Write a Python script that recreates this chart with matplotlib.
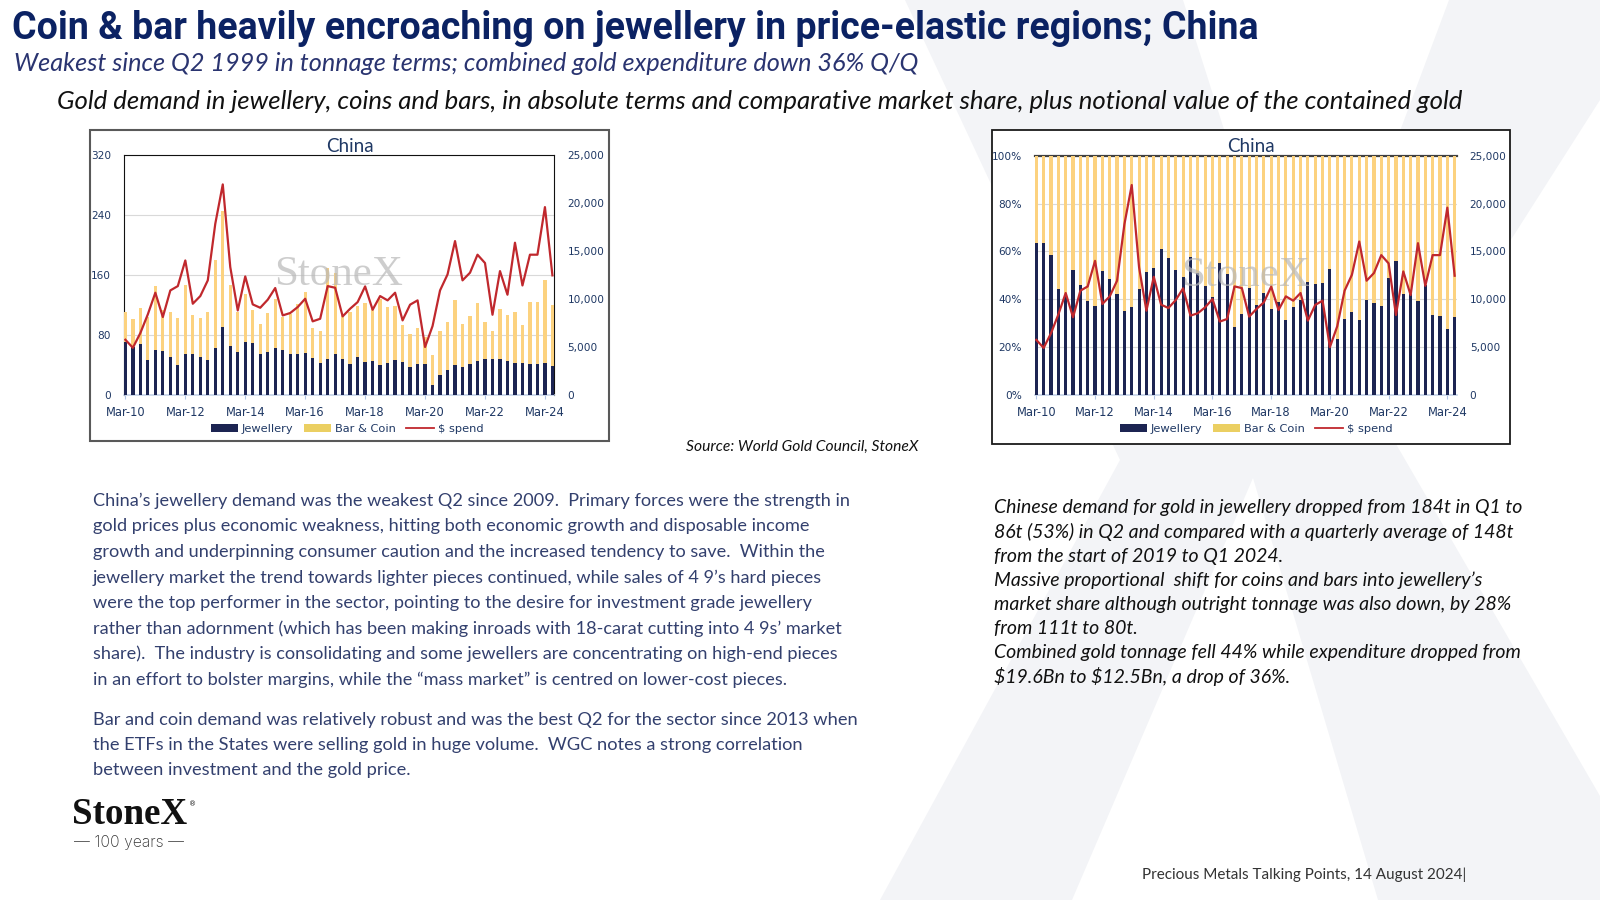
import numpy as np
import matplotlib.pyplot as plt
from matplotlib.patches import Rectangle, Polygon, Patch
from matplotlib.lines import Line2D
from matplotlib.ticker import FuncFormatter

# China, quarterly Q1 2010 .. Q2 2024
jewellery = [70, 64, 68, 46, 60, 59, 51, 40, 54, 55,
             50, 47, 63, 90, 65, 57, 71, 69, 54, 57,
             63, 60, 55, 55, 56, 49.5, 43, 48, 55, 47.5,
             41.5, 50.5, 44, 44.5, 40, 43, 47, 44, 37.5, 41.5,
             40.5, 12.5, 27, 33.5, 40, 37.5, 40.5, 45.5, 47.5, 47.5,
             48, 45, 43, 43, 41.5, 41, 42, 39]
bar_coin = [40, 37, 48, 58, 85, 54, 60, 62, 92, 51,
            53, 64, 117, 156, 82, 54, 63, 44, 40, 52,
            65, 44, 53, 66, 81, 40, 42, 122, 108, 58.5,
            69.5, 68.5, 78, 70.5, 88, 74, 71, 49.5, 43, 47.5,
            36.5, 41, 58, 63.5, 87, 57.5, 64.5, 77.5, 49.5, 37.5,
            66, 61.5, 67, 50.5, 82.5, 83, 111, 80.5]
spend = [5740, 4900, 6440, 8400, 10650, 8110, 10890, 11340, 14020, 9500,
         10300, 11940, 17850, 21960, 13330, 8800, 12350, 9430, 9080, 9920,
         11140, 8280, 8530, 9150, 10020, 7660, 7930, 11340, 11170, 8180,
         8980, 9670, 11310, 8870, 10300, 9850, 10650, 7760, 9400, 9850,
         4980, 7170, 10890, 12560, 16040, 11940, 12740, 14620, 13750, 8350,
         12910, 10440, 15870, 11410, 14620, 14620, 19590, 12460]
tick_labels = ['Mar-10', 'Mar-12', 'Mar-14', 'Mar-16', 'Mar-18', 'Mar-20', 'Mar-22', 'Mar-24']

title = 'Coin & bar heavily encroaching on jewellery in price-elastic regions; China'
subtitle = 'Weakest since Q2 1999 in tonnage terms; combined gold expenditure down 36% Q/Q'
caption = ('Gold demand in jewellery, coins and bars, in absolute terms and comparative '
           'market share, plus notional value of the contained gold')
para1 = ['China’s jewellery demand was the weakest Q2 since 2009.  Primary forces were the strength in',
         'gold prices plus economic weakness, hitting both economic growth and disposable income',
         'growth and underpinning consumer caution and the increased tendency to save.  Within the',
         'jewellery market the trend towards lighter pieces continued, while sales of 4 9’s hard pieces',
         'were the top performer in the sector, pointing to the desire for investment grade jewellery',
         'rather than adornment (which has been making inroads with 18-carat cutting into 4 9s’ market',
         'share).  The industry is consolidating and some jewellers are concentrating on high-end pieces',
         'in an effort to bolster margins, while the “mass market” is centred on lower-cost pieces.']
para2 = ['Bar and coin demand was relatively robust and was the best Q2 for the sector since 2013 when',
         'the ETFs in the States were selling gold in huge volume.  WGC notes a strong correlation',
         'between investment and the gold price.']
notes = ['Chinese demand for gold in jewellery dropped from 184t in Q1 to',
         '86t (53%) in Q2 and compared with a quarterly average of 148t',
         'from the start of 2019 to Q1 2024.',
         'Massive proportional  shift for coins and bars into jewellery’s',
         'market share although outright tonnage was also down, by 28%',
         'from 111t to 80t.',
         'Combined gold tonnage fell 44% while expenditure dropped from',
         '$19.6Bn to $12.5Bn, a drop of 36%.']

NAVY = '#1f3864'
JEW = '#1c2452'
BC = '#fcd27f'
BC_LEG = '#ebcf62'
RED = '#c0282d'

W, H = 1600, 900
fig = plt.figure(figsize=(16, 9), dpi=100)
fig.patch.set_facecolor('white')


def rect(x0, y0, x1, y1):
    return [x0 / W, 1 - y1 / H, (x1 - x0) / W, (y1 - y0) / H]


def pt(x, y):
    return (x / W, 1 - y / H)


# faint X logo in the background
bg = '#f3f4f7'
hull = [(905, 0), (1600, 0), (1600, 900), (880, 900), (1120, 460)]
gaps = [[(1183, 0), (1449, 0), (1305, 385)],
        [(1600, 100), (1514, 235), (1385, 425), (1600, 796)],
        [(1072, 900), (1253, 478), (1378, 900)]]
fig.add_artist(Polygon([pt(*p) for p in hull], closed=True, transform=fig.transFigure,
                       fc=bg, ec='none', zorder=-5))
for g in gaps:
    fig.add_artist(Polygon([pt(*p) for p in g], closed=True, transform=fig.transFigure,
                           fc='white', ec='none', zorder=-4))

x = np.arange(len(jewellery))
jew = np.array(jewellery)
bc = np.array(bar_coin)
share = jew / (jew + bc) * 100


def style(ax, axr, yfmt):
    ax.patch.set_alpha(0)
    ax.set_xlim(-0.25, len(x) - 0.75)
    ax.set_xticks(np.arange(0, len(x), 8))
    ax.set_xticklabels(tick_labels)
    ax.tick_params(axis='x', length=3, color='#b4c7e7', pad=5, labelsize=8.3, labelcolor=NAVY)
    ax.tick_params(axis='y', length=0, pad=9, labelsize=7.6, labelcolor=NAVY)
    ax.yaxis.set_major_formatter(FuncFormatter(yfmt))
    ax.grid(axis='y', color='#d9d9d9', lw=0.8)
    ax.set_axisbelow(True)
    ax.spines['bottom'].set_color('#c5d3e8')
    ax.spines['bottom'].set_linewidth(1.2)
    axr.set_ylim(0, 25000)
    axr.set_yticks(range(0, 25001, 5000))
    axr.yaxis.set_major_formatter(FuncFormatter(lambda v, p: f'{v:,.0f}'))
    axr.tick_params(axis='y', length=0, pad=9.5, labelsize=7.6, labelcolor=NAVY)
    for s in axr.spines.values():
        s.set_visible(False)


def watermark(ax):
    ax.text(0.5, 0.5, 'StoneX', transform=ax.transAxes, ha='center', va='center',
            fontsize=31, family='Liberation Serif', color='#b8b8b8', alpha=0.7, zorder=4)


# ---- left chart: tonnes
fig.add_artist(Rectangle(pt(90, 441), 519 / W, 311 / H, transform=fig.transFigure,
                         fc='white', ec='#595959', lw=1.5, zorder=-1))
ax1 = fig.add_axes(rect(123.5, 155.3, 554.3, 394.7))
ax1.bar(x, jew, width=0.44, color=JEW, zorder=3)
ax1.bar(x, bc, bottom=jew, width=0.44, color=BC, zorder=3)
ax1.set_ylim(0, 320)
ax1.set_yticks(range(0, 321, 80))
ax1r = ax1.twinx()
ax1r.plot(x, spend, color=RED, lw=1.6)
style(ax1, ax1r, lambda v, p: f'{v:.0f}')
for s in ['top', 'left', 'right']:
    ax1.spines[s].set_color('#111111')
watermark(ax1)

# ---- right chart: market share
fig.add_artist(Rectangle(pt(992, 444), 518 / W, 314 / H, transform=fig.transFigure,
                         fc='white', ec='#1a1a1a', lw=1.3, zorder=-1))
ax2 = fig.add_axes(rect(1034.5, 156, 1456.5, 394.7))
ax2.bar(x, share, width=0.43, color=JEW, zorder=3)
ax2.bar(x, 100 - share, bottom=share, width=0.43, color=BC, zorder=3)
ax2.set_ylim(0, 100)
ax2.set_yticks(range(0, 101, 20))
ax2r = ax2.twinx()
ax2r.plot(x, spend, color=RED, lw=1.6)
style(ax2, ax2r, lambda v, p: f'{v:.0f}%')
ax2.spines['left'].set_visible(False)
ax2.spines['right'].set_visible(False)
ax2.spines['top'].set_color('#404040')
ax2.spines['top'].set_linewidth(1.6)
watermark(ax2)

for cx in (349.5, 1251):
    fig.text(cx / W, 1 - 146 / H, 'China', ha='center', va='center',
             fontsize=13.5, family='Lato', color=NAVY)

handles = [Patch(facecolor=JEW), Patch(facecolor=BC_LEG), Line2D([], [], color=RED, lw=1.3)]
labels = ['Jewellery', 'Bar & Coin', '$ spend']
for cx in (347, 1256):
    fig.legend(handles, labels, loc='center', bbox_to_anchor=pt(cx, 429), ncol=3,
               frameon=False, fontsize=8.2, labelcolor=NAVY, handlelength=2.4,
               handleheight=0.7, handletextpad=0.35, columnspacing=0.9)

# ---- text
renderer = fig.canvas.get_renderer()


def fit_lines(xpx, ys, lines, width_px, ref=0, **kw):
    ts = [fig.text(xpx / W, 1 - y / H, s, parse_math=False, **kw) for s, y in zip(lines, ys)]
    w = ts[ref].get_window_extent(renderer).width
    for t in ts:
        t.set_fontsize(t.get_fontsize() * width_px / w)
    return ts


fit_lines(12.5, [38.8], [title], 1244, va='baseline', fontsize=30,
          family='Roboto', fontweight='bold', color='#0b2263')
fit_lines(13.5, [71], [subtitle], 904, va='baseline', fontsize=16,
          family='Lato', style='italic', color='#2a3470')
fit_lines(57, [109], [caption], 1406, va='baseline', fontsize=16,
          family='Lato', style='italic', color='#111111')

fit_lines(93, [501 + 25.5 * i for i in range(len(para1))], para1, 756, va='center',
          fontsize=12, family='Lato', color='#33406e')
fit_lines(93, [719.5, 745, 770.5], para2, 762, va='center',
          fontsize=12, family='Lato', color='#33406e')
fit_lines(994, [508 + 24.07 * i for i in range(len(notes))], notes, 525, ref=6, va='center',
          fontsize=12, family='Lato', style='italic', color='#111111')

fit_lines(918, [447], ['Source: World Gold Council, StoneX'], 233, va='center', ha='right',
          fontsize=10, family='Lato', style='italic', color='#111111')
fit_lines(1466, [874.5], ['Precious Metals Talking Points, 14 August 2024|'], 323, va='center',
          ha='right', fontsize=10, family='Lato', color='#333333')

fit_lines(71.5, [824.5], ['StoneX'], 115, va='baseline', fontsize=22,
          family='Liberation Serif', fontweight='bold', color='#111111')
fig.text(188.5 / W, 1 - 804 / H, '®', fontsize=5, color='#111111', ha='left', va='center')
fit_lines(73.5, [843], ['— 100 years —'], 110, va='center', fontsize=10,
          family='Inter', fontweight='light', color='#333333')

fig.savefig('out.png', dpi=100)
